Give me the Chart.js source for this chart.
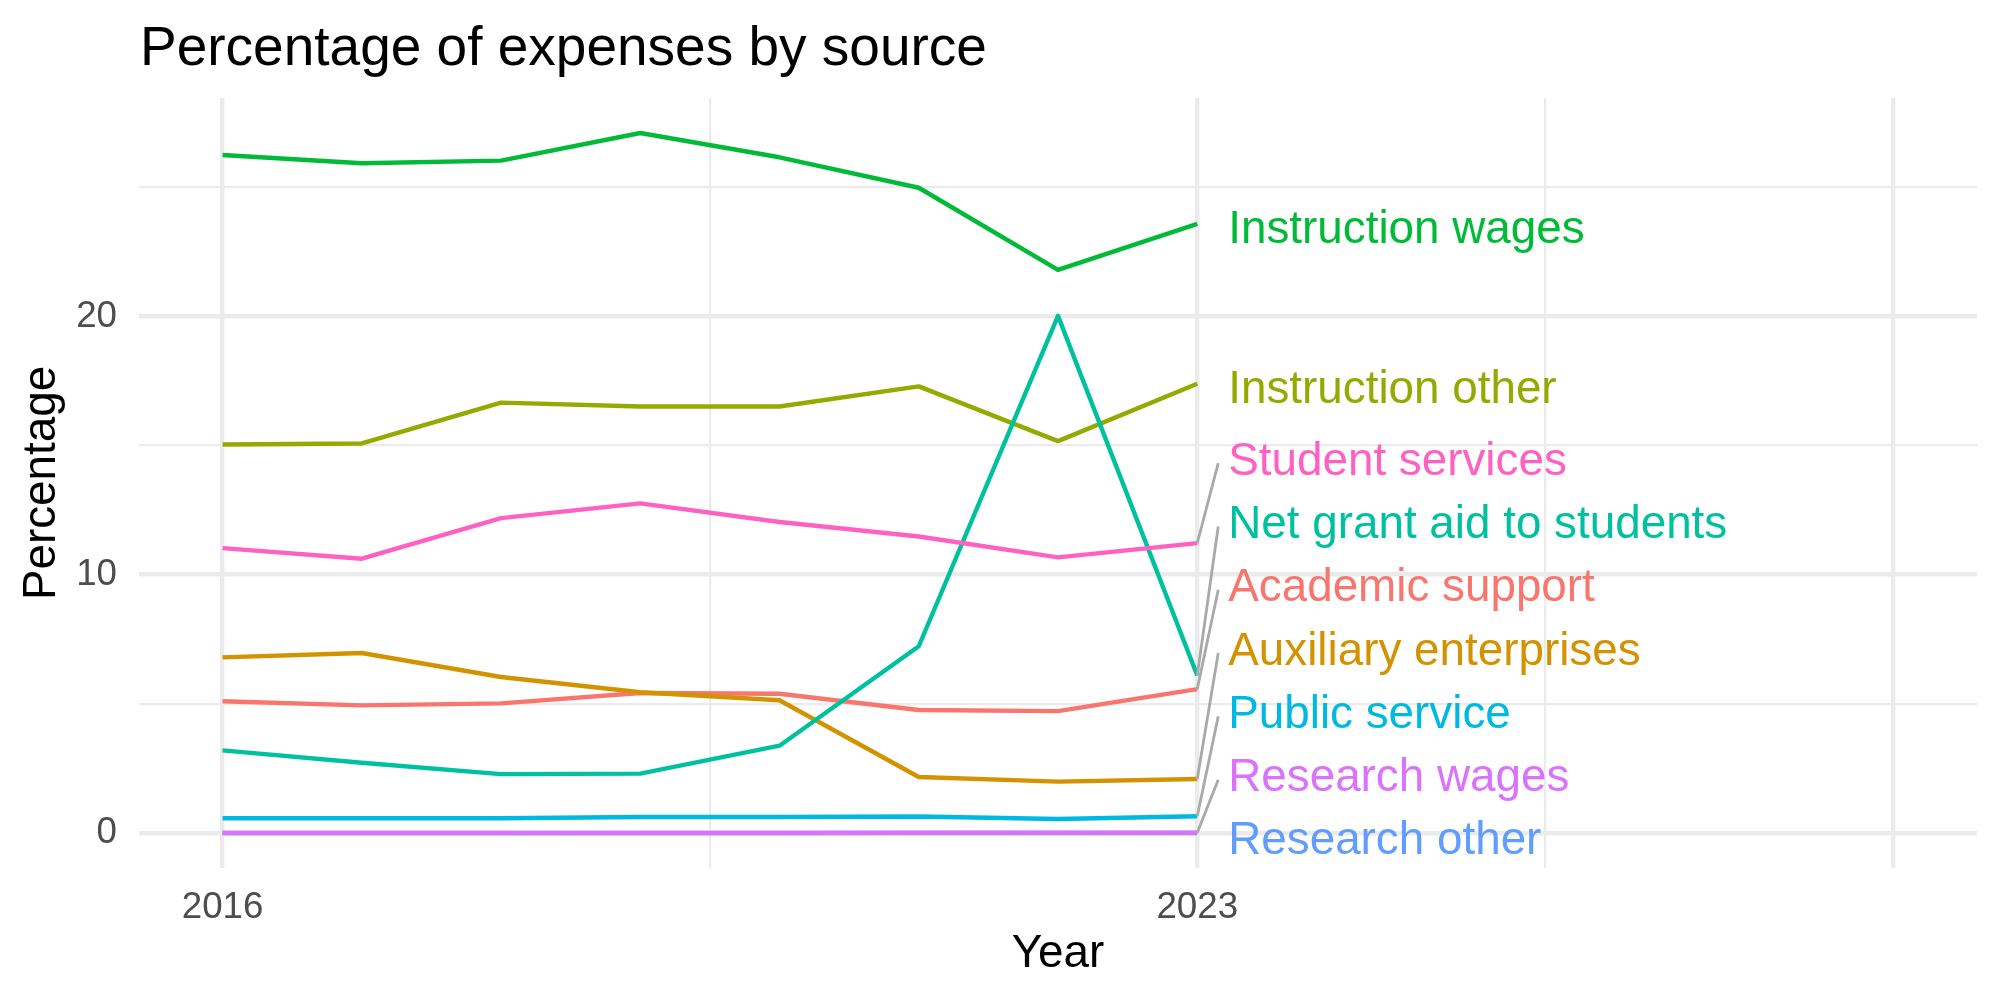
<!DOCTYPE html>
<html>
<head>
<meta charset="utf-8">
<script src="https://cdn.jsdelivr.net/npm/chart.js@4.4.1/dist/chart.umd.min.js"></script>
<style>
  html, body { margin: 0; padding: 0; background: #fff; }
</style>
</head>
<body>
<canvas id="myChart" width="2000" height="1000"></canvas>
<script>
// values (percent of expenses)
const years = [2016, 2017, 2018, 2019, 2020, 2021, 2022, 2023];
const academicSupport      = [5.10, 4.94, 5.02, 5.42, 5.39, 4.76, 4.72, 5.57];
const auxiliaryEnterprises = [6.80, 6.97, 6.04, 5.45, 5.14, 2.17, 1.99, 2.09];
const instructionOther     = [15.04, 15.08, 16.66, 16.51, 16.51, 17.29, 15.17, 17.39];
const instructionWages     = [26.25, 25.93, 26.03, 27.10, 26.16, 24.98, 21.80, 23.58];
const netGrantAid          = [3.20, 2.72, 2.28, 2.30, 3.38, 7.23, 20.02, 6.10];
const publicService        = [0.57, 0.57, 0.57, 0.62, 0.62, 0.64, 0.54, 0.65];
const researchOther        = [0, 0, 0, 0, 0, 0, 0, 0];
const researchWages        = [0, 0, 0, 0, 0, 0.01, 0.01, 0.01];
const studentServices      = [11.03, 10.62, 12.19, 12.76, 12.04, 11.48, 10.67, 11.22];

const seriesNames = ['Academic support', 'Auxiliary enterprises', 'Instruction other', 'Instruction wages',
  'Net grant aid to students', 'Public service', 'Research other', 'Research wages', 'Student services'];
const seriesValues = [academicSupport, auxiliaryEnterprises, instructionOther, instructionWages,
  netGrantAid, publicService, researchOther, researchWages, studentServices];
const seriesColors = ['#F8766D', '#D39200', '#93AA00', '#00BA38', '#00C19F', '#00B9E3', '#619CFF', '#DB72FB', '#FF61C3'];

const xTickLabels = [2016, 2023];
const xMajorGrid = [2016, 2023, 2028];
const xMinorGrid = [2019.5, 2025.5];
const yTickLabels = [0, 10, 20];
const yMinorGrid = [5, 15, 25];

Chart.defaults.font.family = '"Liberation Sans", Arial, sans-serif';

// plot title, left aligned with the panel
const titlePlugin = {
  id: 'leftTitle',
  afterDraw(chart) {
    const ctx = chart.ctx;
    ctx.save();
    ctx.font = '55px "Liberation Sans"';
    ctx.fillStyle = '#000';
    ctx.textBaseline = 'alphabetic';
    ctx.fillText('Percentage of expenses by source', chart.chartArea.left + 1, 65);
    ctx.restore();
  }
};

// repelled labels at the end of each line
const endLabels = {
  id: 'endLabels',
  afterDatasetsDraw(chart) {
    const { ctx, scales: { x, y } } = chart;
    const items = chart.data.datasets.map(ds => {
      const last = ds.data[ds.data.length - 1];
      return { text: ds.label, color: ds.borderColor, v: last.y,
        px: x.getPixelForValue(last.x), py: y.getPixelForValue(last.y) };
    }).sort((a, b) => a.v - b.v);
    let prev = null;
    items.forEach((it, k) => {
      it.ly = k === 0 ? it.py + 5 : Math.min(it.py + 2.5, prev - 63.3);
      prev = it.ly;
    });
    ctx.save();
    ctx.strokeStyle = '#A9A9A9';
    ctx.lineWidth = 2.8;
    items.forEach(it => {
      if (Math.abs(it.ly - it.py) > 20) {
        ctx.beginPath();
        ctx.moveTo(it.px, it.py);
        ctx.lineTo(it.px + 21, it.ly + 5);
        ctx.stroke();
      }
    });
    ctx.font = '45.8px "Liberation Sans"';
    ctx.textBaseline = 'alphabetic';
    items.forEach(it => {
      ctx.fillStyle = it.color;
      ctx.fillText(it.text, it.px + 31, it.ly + 16.4);
    });
    ctx.restore();
  }
};

const ctx = document.getElementById('myChart');

new Chart(ctx, {
  type: 'line',
  data: {
    datasets: seriesNames.map((name, i) => ({
      label: name,
      data: years.map((yr, j) => ({ x: yr, y: seriesValues[i][j] })),
      borderColor: seriesColors[i],
      backgroundColor: seriesColors[i],
      borderWidth: 4.4,
      borderJoinStyle: 'round',
      pointRadius: 0,
      tension: 0,
      fill: false,
      order: seriesNames.length - i
    }))
  },
  options: {
    responsive: false,
    animation: false,
    devicePixelRatio: 1,
    layout: { padding: { top: 98, right: 23, left: 0, bottom: 0 } },
    plugins: {
      legend: { display: false },
      title: { display: false },
      tooltip: { enabled: false }
    },
    scales: {
      x: {
        type: 'linear',
        min: 2015.4,
        max: 2028.6,
        afterBuildTicks: s => { s.ticks = xMajorGrid.concat(xMinorGrid).sort((a, b) => a - b).map(v => ({ value: v })); },
        afterFit: s => { s.height = 132; },
        ticks: {
          autoSkip: false,
          maxRotation: 0,
          padding: 17.5,
          color: '#4D4D4D',
          font: { size: 36.7 },
          callback: v => xTickLabels.includes(v) ? String(v) : ''
        },
        grid: {
          color: '#EBEBEB',
          lineWidth: c => (c.tick && xMajorGrid.includes(c.tick.value)) ? 4.4 : 2.2,
          drawTicks: false
        },
        border: { display: false },
        title: {
          display: true,
          text: 'Year',
          color: '#000',
          font: { size: 45.8 },
          padding: { top: 0, bottom: 18.5 }
        }
      },
      y: {
        min: -1.355,
        max: 28.455,
        afterBuildTicks: s => { s.ticks = yTickLabels.concat(yMinorGrid).sort((a, b) => a - b).map(v => ({ value: v })); },
        afterFit: s => { s.width = 139; },
        ticks: {
          padding: 22,
          color: '#4D4D4D',
          font: { size: 36.7 },
          callback: v => yTickLabels.includes(v) ? String(v) : ''
        },
        grid: {
          color: '#EBEBEB',
          lineWidth: c => (c.tick && yTickLabels.includes(c.tick.value)) ? 4.4 : 2.2,
          drawTicks: false
        },
        border: { display: false },
        title: {
          display: true,
          text: 'Percentage',
          color: '#000',
          font: { size: 45.8 },
          padding: { top: 15, bottom: 0 }
        }
      }
    }
  },
  plugins: [titlePlugin, endLabels]
});
</script>
</body>
</html>
